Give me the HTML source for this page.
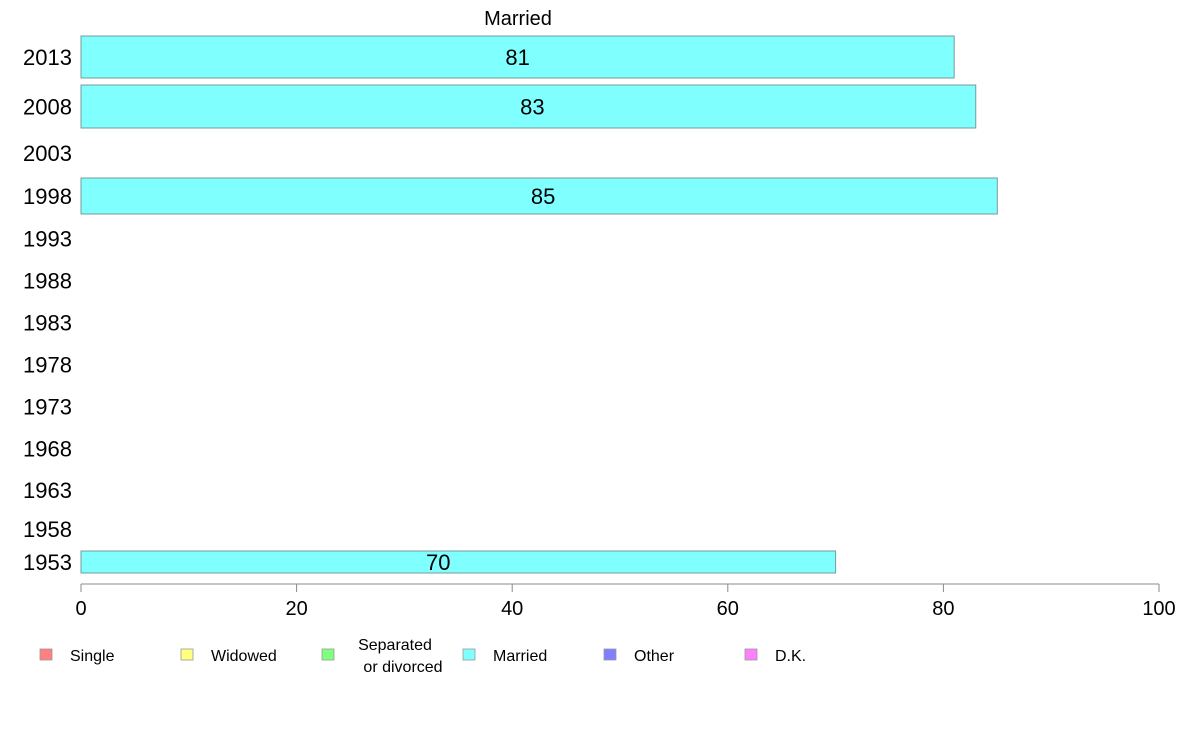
<!DOCTYPE html>
<html><head><meta charset="utf-8"><style>
html,body{margin:0;padding:0;background:#fff;}
svg{display:block;font-family:"Liberation Sans",sans-serif;}
</style></head><body>
<svg id="chart" width="1188" height="736" viewBox="0 0 1188 736">
<text x="518" y="25" font-size="20" text-anchor="middle">Married</text>
<g id="bars"></g>
<g id="yaxis"></g>
<g id="xaxis"></g>
<g id="legend"></g>
</svg>
<script>
const years = ["2013","2008","2003","1998","1993","1988","1983","1978","1973","1968","1963","1958","1953"];
const values = [81, 83, null, 85, null, null, null, null, null, null, null, null, 70];
const rowWeights = [42, 43, 36, 36, 35, 35, 35, 35, 35, 35, 34, 30, 22];
const xTicks = [0, 20, 40, 60, 80, 100];
const legendLabels = ["Single", "Widowed", "Separated\nor divorced", "Married", "Other", "D.K."];
const legendColors = ["#ff8080", "#ffff80", "#80ff80", "#80ffff", "#8080ff", "#ff80ff"];

const NS = "http://www.w3.org/2000/svg";
const X0 = 81, X1 = 1159, TOP = 36, GAP = 7, AXIS_Y = 584;
const xScale = v => X0 + (v / 100) * (X1 - X0);
function mk(tag, attrs, parent){const e=document.createElementNS(NS,tag);for(const k in attrs)e.setAttribute(k,attrs[k]);parent.appendChild(e);return e;}

const bars = document.getElementById("bars"), yaxis = document.getElementById("yaxis");
let y = TOP;
years.forEach((yr, i) => {
  const h = rowWeights[i], cy = y + h / 2;
  const t = mk("text", {x: 72, y: cy + 8, "font-size": 22, "text-anchor": "end"}, yaxis);
  
  
  t.textContent = yr;
  if (values[i] != null) {
    const r = mk("rect", {x: X0, y: y, width: xScale(values[i]) - X0, height: h, fill: "#80ffff", stroke: "#7a9a9a", "stroke-width": 1}, bars);
    
    
    const l = mk("text", {x: (X0 + xScale(values[i])) / 2 + (i===12? -20 : i===0? 0 : 4), y: cy + 8, "font-size": 22, "text-anchor": "middle"}, bars);
    
    
    l.textContent = values[i];
  }
  y += h + GAP;
});

const xaxis = document.getElementById("xaxis");
const al = mk("line", {x1: X0, x2: X1, y1: AXIS_Y, y2: AXIS_Y, stroke: "#888", "stroke-width": 1}, xaxis);


xTicks.forEach(v => {
  const tk = mk("line", {x1: xScale(v), x2: xScale(v), y1: AXIS_Y, y2: AXIS_Y + 8, stroke: "#888", "stroke-width": 1}, xaxis);
  
  
  const tl = mk("text", {x: xScale(v), y: 615, "font-size": 20, "text-anchor": "middle"}, xaxis);
  
  
  tl.textContent = v;
});

const legend = document.getElementById("legend");
legendLabels.forEach((lab, i) => {
  const lx = 40 + i * 141;
  const g = mk("g", {}, legend);
  
  
  mk("rect", {x: lx, y: 649, width: 12, height: 11, fill: legendColors[i], stroke: "#999", "stroke-width": 0.8}, g);
  const parts = lab.split("\n");
  if (parts.length === 1) {
    const t = mk("text", {x: lx + 30, y: 661, "font-size": 16}, g);
    t.textContent = lab;
  } else {
    const t1 = mk("text", {x: lx + 73, y: 650, "font-size": 16, "text-anchor": "middle"}, g);
    t1.textContent = parts[0];
    const t2 = mk("text", {x: lx + 81, y: 672, "font-size": 16, "text-anchor": "middle"}, g);
    t2.textContent = parts[1];
  }
});
</script>
</body></html>
